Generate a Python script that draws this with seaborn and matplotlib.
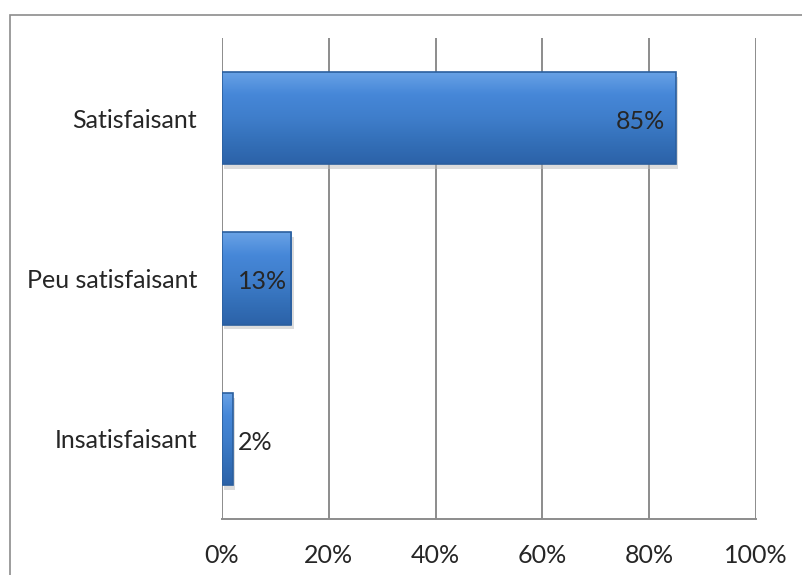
import numpy as np
import pandas as pd
import matplotlib
matplotlib.use("Agg")
import matplotlib.pyplot as plt
import seaborn as sns
from matplotlib.patches import Rectangle

categories = ["Satisfaisant", "Peu satisfaisant", "Insatisfaisant"]
values = [85, 13, 2]
labels = ["85%", "13%", "2%"]
ticks = [0, 20, 40, 60, 80, 100]
tick_labels = ["0%", "20%", "40%", "60%", "80%", "100%"]

df = pd.DataFrame({"cat": categories, "val": values})

sns.set_theme(style="white")
plt.rcParams["font.family"] = ["Lato", "DejaVu Sans"]

fig = plt.figure(figsize=(8.02, 5.75), dpi=100)
W, H = 802, 575
ax = fig.add_axes([222 / W, 1 - 519 / H, (756 - 222) / W, (519 - 38) / H])

sns.barplot(data=df, x="val", y="cat", orient="h", color="#3d7cc9",
            width=0.575, edgecolor="#2b5f9e", linewidth=1.2, ax=ax, zorder=3)

# gradient fill for a bevelled look
grad = np.linspace(0, 1, 256).reshape(-1, 1)
cmap = matplotlib.colors.LinearSegmentedColormap.from_list(
    "bev", ["#6aa3e6", "#4687d8", "#3f7ecb", "#3470b9", "#2c62a8"])
for p in ax.patches:
    x0, y0 = p.get_x(), p.get_y()
    w, h = p.get_width(), p.get_height()
    # shadow
    ax.add_patch(Rectangle((x0 + 0.4, y0 + 0.03), w, h, color="#bbbbbb",
                           alpha=0.5, zorder=2, lw=0))
    im = ax.imshow(grad, extent=(x0, x0 + w, y0 + h, y0), cmap=cmap,
                   aspect="auto", zorder=3.5)
    im.set_clip_path(p)
    p.set_zorder(4)
    p.set_facecolor("none")

fs = 18
ax.set_xlim(0, 100)
ax.set_ylim(2.5, -0.5)
ax.set_xticks(ticks)
ax.set_xticklabels(tick_labels, fontsize=fs)
ax.tick_params(axis="x", length=0, pad=18)
ax.tick_params(axis="y", length=0, pad=18, labelsize=fs)
ax.set_xlabel("")
ax.set_ylabel("")
ax.xaxis.grid(True, color="#8c8c8c", linewidth=1.4, zorder=0)
ax.set_axisbelow(True)
for s in ["top", "right", "left"]:
    ax.spines[s].set_visible(False)
ax.spines["bottom"].set_color("#8c8c8c")
ax.spines["bottom"].set_linewidth(1.4)

# value labels
for i, (v, lab) in enumerate(zip(values, labels)):
    if v > 50:
        ax.text(v - 2, i + 0.02, lab, ha="right", va="center", fontsize=fs, zorder=6)
    elif v > 5:
        ax.text(v / 2 + 1, i + 0.02, lab, ha="center", va="center", fontsize=fs, zorder=6)
    else:
        ax.text(v + 1, i + 0.02, lab, ha="left", va="center", fontsize=fs, zorder=6)

# outer chart border
fig.add_artist(Rectangle((10 / W, -0.1), 1.2, 1 - 15 / H + 0.1,
                         transform=fig.transFigure, fill=False,
                         edgecolor="#8c8c8c", linewidth=1.2))

fig.savefig("out.png", dpi=100)
